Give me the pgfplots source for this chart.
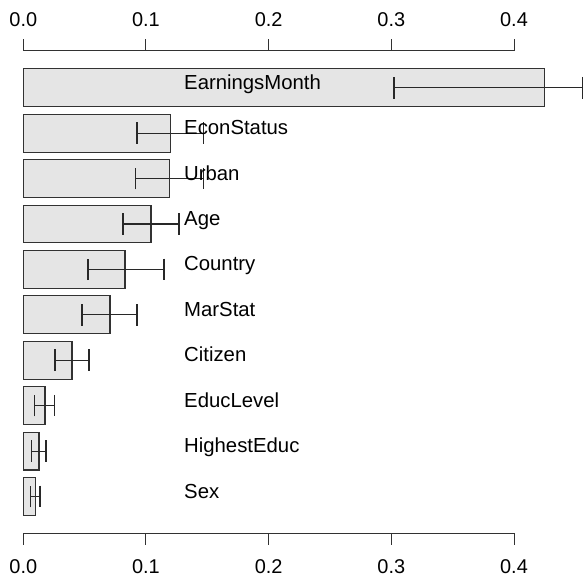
\documentclass[border=0pt]{standalone}
\usepackage{fontspec}
\setmainfont{Liberation Sans}
\usepackage{pgfplots}
\pgfplotsset{compat=1.18}
\usepackage{pgfplotstable}
\definecolor{barfill}{RGB}{229,229,229}
\definecolor{lin}{RGB}{50,50,50}
\definecolor{err}{RGB}{40,40,40}

\pgfplotstableread{
y    x      ep     em     lx    ly    label
11.5 0.4247 0.0313 0.1225 0.131 11.46 EarningsMonth
10.3 0.1199 0.0268 0.0272 0.131 10.26 EconStatus
9.1  0.1190 0.0276 0.0277 0.131 9.06  Urban
7.9  0.1041 0.0228 0.0228 0.131 7.86  Age
6.7  0.0829 0.0318 0.0302 0.131 6.66  Country
5.5  0.0707 0.0220 0.0229 0.131 5.46  MarStat
4.3  0.0397 0.0139 0.0139 0.131 4.26  Citizen
3.1  0.0177 0.0076 0.0087 0.131 3.06  EducLevel
1.9  0.0128 0.0057 0.0060 0.131 1.86  HighestEduc
0.7  0.0098 0.0038 0.0038 0.131 0.66  Sex
}\data

\pgfplotsset{
  base/.style={
    scale only axis, width=564.3bp, height=482.3bp,
    at={(0,0)}, anchor=south west,
    xmin=0, xmax=0.46, ymin=-0.272, ymax=12.472,
    axis line style={draw=none},
    xtick={0,0.1,0.2,0.3,0.4}, ytick=\empty,
    tick align=outside, major tick length=11.5bp,
    tick style={draw=lin, line width=1pt},
    xticklabel style={font=\fontsize{20}{20}\selectfont, text=black},
    /pgf/number format/.cd, fixed, fixed zerofill, precision=1, assume math mode=true,
    /pgfplots/.cd, clip=false,
  }
}

\begin{document}
\begin{tikzpicture}
\path[use as bounding box] (-23.3bp,-44.7bp) rectangle (561.7bp,533.3bp);
\begin{axis}[base, xtick pos=bottom, xticklabel pos=bottom,
  xticklabel style={yshift=-11bp}]
\addplot[xbar, bar shift=0pt, bar width=1, fill=barfill, draw=lin, line width=1.1pt,
  error bars/.cd, x dir=both, x explicit,
  error bar style={line width=1.2pt, draw=err},
  error mark=|, error mark options={mark size=10.8bp, line width=1.2pt, draw=err}]
  table[x=x, y=y, x error plus=ep, x error minus=em]{\data};
\addplot[only marks, mark=*, mark size=0pt, mark options={draw=none, fill=none},
  nodes near coords, point meta=explicit symbolic,
  nodes near coords style={anchor=base west, inner sep=0pt, text=black,
    font=\fontsize{20.4}{20.4}\selectfont}]
  table[x=lx, y=ly, meta=label]{\data};
\draw[lin, line width=1pt] (axis cs:0,-0.272) -- (axis cs:0.4,-0.272);
\draw[lin, line width=1pt] (axis cs:0,12.472) -- (axis cs:0.4,12.472);
\end{axis}
\begin{axis}[base, xtick pos=top, xticklabel pos=top,
  xticklabel style={yshift=9bp}]
\end{axis}
\end{tikzpicture}
\end{document}
